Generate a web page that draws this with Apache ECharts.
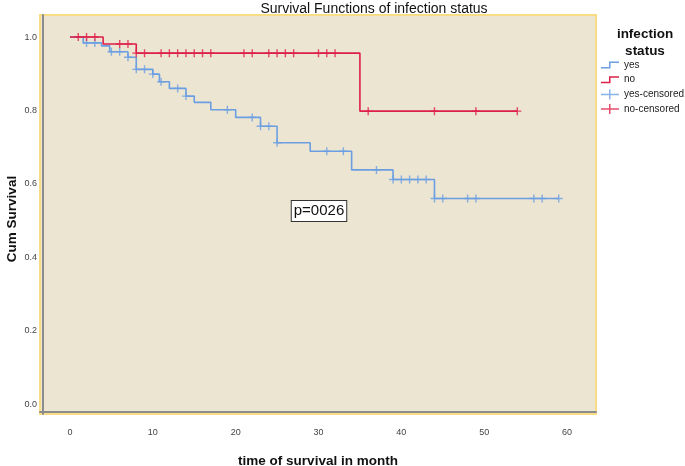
<!DOCTYPE html>
<html><head><meta charset="utf-8">
<script src="https://cdn.jsdelivr.net/npm/echarts@6/dist/echarts.min.js"></script>
<style>html,body{margin:0;padding:0;background:#fff}#c{width:685px;height:466px}</style>
</head><body><div id="c"></div>
<script>
// ---- data ----
const xTicks = [0, 10, 20, 30, 40, 50, 60];
const yTicks = [0, 0.2, 0.4, 0.6, 0.8, 1.0];
// "yes" group: step change times and survival after each change
const yesTimes = [0, 1.6, 3.8, 4.8, 7, 8, 10, 10.8, 12, 14, 15, 17, 20, 23, 25, 29, 34, 39, 44, 59];
const yesSurv  = [1, 0.984, 0.976, 0.960, 0.945, 0.912, 0.899, 0.878, 0.860, 0.839, 0.822, 0.802, 0.781, 0.757, 0.712, 0.689, 0.638, 0.612, 0.560, 0.560];
const yesCensor = [2, 3, 5, 6, 7, 8, 9, 10, 11, 13, 14, 19, 22, 23, 24, 25, 31, 33, 37, 39, 40, 41, 42, 43, 44, 45, 48, 49, 56, 57, 59];
// "no" group
const noTimes = [0, 4, 8, 35, 54];
const noSurv  = [1, 0.981, 0.956, 0.798, 0.798];
const noCensor = [1, 2, 3, 6, 7, 8, 9, 11, 12, 13, 14, 15, 16, 17, 21, 22, 24, 25, 26, 27, 30, 31, 32, 36, 44, 49, 54];
const seriesNames = ['yes', 'no', 'yes-censored', 'no-censored'];
const pText = 'p=0026';
const pPos = [30.06, 0.526];

// ---- build ----
const blue = '#6C9FE2', red = '#DE1F48';
function stepPts(t, s) { return t.map((v, i) => [v, s[i]]); }
function levelAt(t, s, x) { let v = s[0]; for (let i = 0; i < t.length; i++) { if (t[i] <= x) v = s[i]; } return v; }
function censorPts(ct, t, s) { return ct.map(x => [x, levelAt(t, s, x)]); }

const plus = 'path://M0,3.3 L3.3,3.3 L3.3,0 L4.7,0 L4.7,3.3 L8,3.3 L8,4.7 L4.7,4.7 L4.7,8 L3.3,8 L3.3,4.7 L0,4.7 Z';
const stepIcon = 'path://M0,5.5 L8,5.5 L8,0 L18,0 L18,1.5 L9.5,1.5 L9.5,7 L0,7 Z';
const plusIcon = 'path://M0,4.25 L8,4.25 L8,0 L9.5,0 L9.5,4.25 L18,4.25 L18,5.75 L9.5,5.75 L9.5,10 L8,10 L8,5.75 L0,5.75 Z';

const chart = echarts.init(document.getElementById('c'), null, { renderer: 'canvas' });
chart.setOption({
  animation: false,
  backgroundColor: '#ffffff',
  title: [
    { text: 'Survival Functions of infection status', left: 369, top: -3, textAlign: 'center',
      textStyle: { fontFamily: 'Liberation Sans', fontSize: 14, fontWeight: 'normal', color: '#111' } },
    { text: 'infection\nstatus', left: 640, top: 21, textAlign: 'center',
      textStyle: { fontFamily: 'Liberation Sans', fontSize: 13.5, fontWeight: 'bold', color: '#111', lineHeight: 17 } }
  ],
  legend: {
    orient: 'vertical', left: 596, top: 54, itemWidth: 18, itemHeight: 10, itemGap: 2.7,
    textStyle: { fontFamily: 'Liberation Sans', fontSize: 10, color: '#222', lineHeight: 12 },
    data: [
      { name: seriesNames[0], icon: stepIcon, itemStyle: { color: blue } },
      { name: seriesNames[1], icon: stepIcon, itemStyle: { color: red } },
      { name: seriesNames[2], icon: plusIcon, itemStyle: { color: blue } },
      { name: seriesNames[3], icon: plusIcon, itemStyle: { color: red } }
    ]
  },
  grid: { left: 40, right: 89, top: 15, bottom: 52, show: true, backgroundColor: '#EBE5D2',
          borderColor: '#F8DC86', borderWidth: 2, containLabel: false, outerBoundsMode: 'none' },
  xAxis: {
    type: 'value', min: -3.62, max: 63.5, offset: -2.5,
    name: 'time of survival in month', nameLocation: 'middle', nameGap: 43,
    nameTextStyle: { fontFamily: 'Liberation Sans', fontSize: 13.5, fontWeight: 'bold', color: '#111' },
    axisLine: { show: true, onZero: false, lineStyle: { color: '#8c8c8c', width: 2 } },
    axisTick: { show: false },
    splitLine: { show: false },
    axisLabel: { customValues: xTicks, margin: 17, fontFamily: 'Liberation Sans', fontSize: 9, color: '#444',
                 formatter: v => String(v) }
  },
  yAxis: {
    type: 'value', min: -0.027, max: 1.06, offset: -2.5,
    name: 'Cum Survival', nameLocation: 'middle', nameGap: 23, nameMoveOverlap: false,
    nameTextStyle: { fontFamily: 'Liberation Sans', fontSize: 13.5, fontWeight: 'bold', color: '#111', padding: [0, 9, 0, 0] },
    axisLine: { show: true, onZero: false, lineStyle: { color: '#8c8c8c', width: 2 } },
    axisTick: { show: false },
    splitLine: { show: false },
    axisLabel: { customValues: yTicks, margin: 5.5, fontFamily: 'Liberation Sans', fontSize: 9, color: '#444',
                 formatter: v => v.toFixed(1) }
  },
  series: [
    { name: seriesNames[0], type: 'line', step: 'end', data: stepPts(yesTimes, yesSurv), symbol: 'none',
      lineStyle: { color: blue, width: 1.6 }, itemStyle: { color: blue }, z: 2,
      markPoint: { silent: true, symbol: 'rect', symbolSize: 0.1, itemStyle: { color: 'transparent' },
        data: [{ coord: pPos }],
        label: { show: true, position: 'inside', formatter: pText, fontFamily: 'Liberation Sans', fontSize: 15,
                 color: '#111', backgroundColor: '#ffffff', borderColor: '#333', borderWidth: 1, padding: [3, 2, 2, 2] } } },
    { name: seriesNames[1], type: 'line', step: 'end', data: stepPts(noTimes, noSurv), symbol: 'none',
      lineStyle: { color: red, width: 1.6 }, itemStyle: { color: red }, z: 4 },
    { name: seriesNames[2], type: 'scatter', data: censorPts(yesCensor, yesTimes, yesSurv), symbol: plus,
      symbolSize: 8, itemStyle: { color: blue }, z: 3 },
    { name: seriesNames[3], type: 'scatter', data: censorPts(noCensor, noTimes, noSurv), symbol: plus,
      symbolSize: 8, itemStyle: { color: red }, z: 5 }
  ]
});
</script></body></html>
